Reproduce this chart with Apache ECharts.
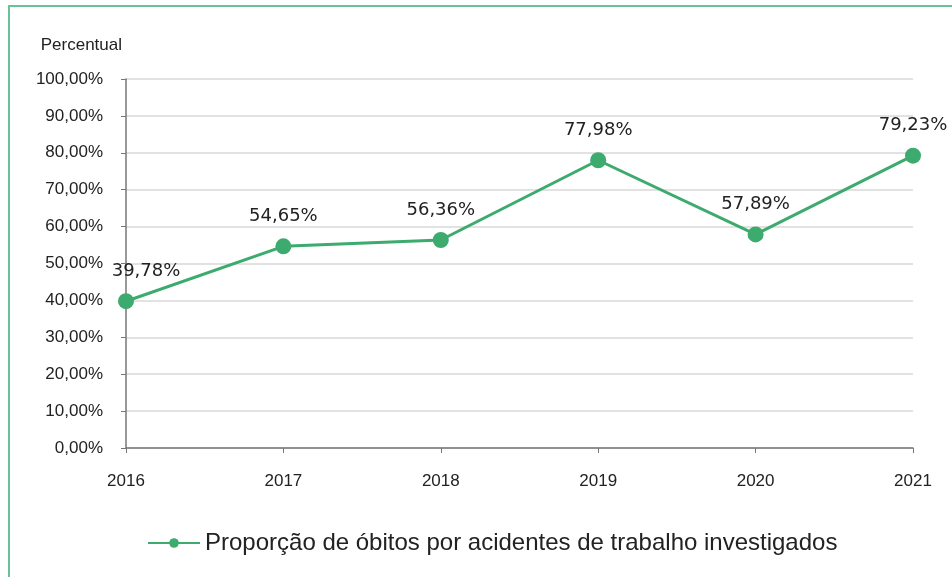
<!DOCTYPE html>
<html lang="pt-BR">
<head>
<meta charset="UTF-8">
<title>Proporção de óbitos por acidentes de trabalho investigados</title>
<script src="https://cdn.jsdelivr.net/npm/echarts@6/dist/echarts.min.js"></script>
<style>
  body { margin: 0; background: #fff; }
  .frame {
    position: absolute; left: 8px; top: 5px; width: 960px; height: 600px;
    border: 2px solid #6cc196; box-sizing: border-box;
  }
  #chart { position: absolute; left: 0; top: 0; width: 952px; height: 577px; }
</style>
</head>
<body>
<div class="frame"></div>
<div id="chart"></div>
<script>
  const years = ['2016', '2017', '2018', '2019', '2020', '2021'];
  const proporcao = [39.78, 54.65, 56.36, 77.98, 57.89, 79.23];
  const seriesName = 'Proporção de óbitos por acidentes de trabalho investigados';

  const fmt = v => v.toFixed(2).replace('.', ',') + '%';

  const chart = echarts.init(document.getElementById('chart'));
  chart.setOption({
    animation: false,
    grid: { left: 126, right: 39, top: 79, bottom: 129 },
    legend: {
      data: [seriesName],
      bottom: 17,
      left: 142,
      itemWidth: 52,
      itemHeight: 12,
      textStyle: { fontFamily: 'Liberation Sans, Arial', fontSize: 24, color: '#222' }
    },
    xAxis: {
      type: 'category',
      data: years,
      boundaryGap: false,
      axisLine: { lineStyle: { color: '#777', width: 1.5 } },
      axisTick: { show: true, length: 5, lineStyle: { color: '#777' } },
      axisLabel: { margin: 25, fontFamily: 'Liberation Sans, Arial', fontSize: 17, color: '#222' }
    },
    yAxis: {
      type: 'value',
      min: 0, max: 100, interval: 10,
      name: 'Percentual',
      nameLocation: 'end',
      nameGap: 25,
      nameTextStyle: { align: 'right', padding: [0, 4, 0, 0], fontFamily: 'Liberation Sans, Arial', fontSize: 17, color: '#222' },
      axisLine: { show: true, lineStyle: { color: '#777', width: 1.5 } },
      axisTick: { show: true, length: 5, lineStyle: { color: '#777' } },
      axisLabel: { margin: 23, formatter: v => fmt(v), fontFamily: 'Liberation Sans, Arial', fontSize: 17, color: '#222' },
      splitLine: { lineStyle: { color: '#d9d9d9', width: 1.5 } }
    },
    series: [{
      name: seriesName,
      type: 'line',
      data: proporcao.map((v, i) => i === 0
        ? { value: v, label: { offset: [20, 0] } }
        : v),
      symbol: 'circle',
      symbolSize: 16,
      lineStyle: { color: '#3daa6e', width: 3 },
      itemStyle: { color: '#3daa6e' },
      label: {
        show: true,
        position: 'top',
        distance: 13,
        formatter: p => fmt(p.value),
        fontFamily: 'DejaVu Sans, Verdana',
        fontSize: 18,
        color: '#222'
      }
    }]
  });
</script>
</body>
</html>
